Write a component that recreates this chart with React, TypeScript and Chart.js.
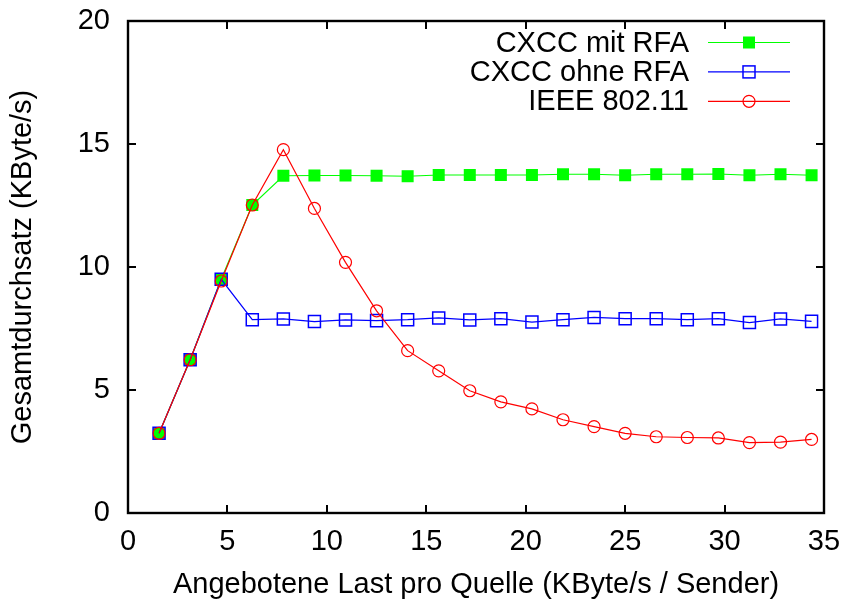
import React, { useEffect, useRef } from 'react';
import { Chart, registerables } from 'chart.js';

Chart.register(...registerables);

const xValues = [1.5625, 3.125, 4.6875, 6.25, 7.8125, 9.375, 10.9375, 12.5, 14.0625, 15.625, 17.1875, 18.75, 20.3125, 21.875, 23.4375, 25, 26.5625, 28.125, 29.6875, 31.25, 32.8125, 34.375];
const seriesLabels = ['CXCC mit RFA', 'CXCC ohne RFA', 'IEEE 802.11'];
const mitRFA = [3.24, 6.23, 9.5, 12.52, 13.71, 13.72, 13.72, 13.71, 13.69, 13.74, 13.74, 13.74, 13.74, 13.77, 13.77, 13.73, 13.77, 13.77, 13.78, 13.73, 13.77, 13.73];
const ohneRFA = [3.24, 6.23, 9.5, 7.86, 7.89, 7.78, 7.85, 7.82, 7.86, 7.93, 7.85, 7.9, 7.76, 7.86, 7.95, 7.9, 7.9, 7.86, 7.9, 7.74, 7.89, 7.79];
const ieee = [3.24, 6.23, 9.43, 12.52, 14.77, 12.38, 10.19, 8.22, 6.6, 5.78, 4.97, 4.52, 4.23, 3.79, 3.51, 3.24, 3.1, 3.07, 3.05, 2.86, 2.88, 2.99];
const xTicks = [0, 5, 10, 15, 20, 25, 30, 35];
const yTicks = [0, 5, 10, 15, 20];
const xTitle = 'Angebotene Last pro Quelle (KByte/s / Sender)';
const yTitle = 'Gesamtdurchsatz (KByte/s)';

const colors = ['#00ff00', '#0000ff', '#ff0000'];
const FONT = "'Liberation Sans', Arial, Helvetica, sans-serif";
const FS = 29;

function drawMarker(ctx: CanvasRenderingContext2D, i: number, x: number, y: number) {
  ctx.save();
  if (i === 0) {
    ctx.fillStyle = colors[0];
    ctx.fillRect(x - 6, y - 6, 12, 12);
  } else if (i === 1) {
    ctx.strokeStyle = colors[1];
    ctx.lineWidth = 1.5;
    ctx.strokeRect(x - 6, y - 6, 12, 12);
  } else {
    ctx.strokeStyle = colors[2];
    ctx.lineWidth = 1.2;
    ctx.beginPath();
    ctx.arc(x, y, 6, 0, Math.PI * 2);
    ctx.stroke();
  }
  ctx.restore();
}

const framePlugin = {
  id: 'gnuFrame',
  afterDatasetsDraw(chart: any) {
    const { ctx, chartArea, scales } = chart;
    const { left, right, top, bottom } = chartArea;
    const x = scales.x;
    const y = scales.y;
    ctx.save();
    ctx.strokeStyle = '#000';
    ctx.lineWidth = 2;
    ctx.beginPath();
    for (const v of xTicks) {
      const px = Math.round(x.getPixelForValue(v));
      ctx.moveTo(px, bottom);
      ctx.lineTo(px, bottom - 8);
      ctx.moveTo(px, top);
      ctx.lineTo(px, top + 8);
    }
    for (const v of yTicks) {
      const py = Math.round(y.getPixelForValue(v));
      ctx.moveTo(left, py);
      ctx.lineTo(left + 8, py);
      ctx.moveTo(right, py);
      ctx.lineTo(right - 8, py);
    }
    ctx.stroke();
    ctx.lineWidth = 2.4;
    ctx.strokeRect(left, top, right - left, bottom - top);

    // legend
    ctx.font = `${FS}px ${FONT}`;
    ctx.textAlign = 'right';
    ctx.textBaseline = 'middle';
    for (let i = 0; i < seriesLabels.length; i++) {
      const rowY = top + 21.5 + i * 29.4;
      ctx.fillStyle = '#000';
      ctx.fillText(seriesLabels[i], right - 135, rowY + 1);
      ctx.strokeStyle = colors[i];
      ctx.lineWidth = 1.2;
      ctx.beginPath();
      ctx.moveTo(right - 116, rowY);
      ctx.lineTo(right - 34, rowY);
      ctx.stroke();
      drawMarker(ctx, i, right - 75, rowY);
    }
    ctx.restore();
  },
};

export default function App() {
  const ref = useRef<HTMLCanvasElement>(null);
  useEffect(() => {
    if (!ref.current) return;
    Chart.defaults.font.family = FONT;
    Chart.defaults.color = '#000';
    const mk = (vals: number[]) => xValues.map((xv, i) => ({ x: xv, y: vals[i] }));
    const chart = new Chart(ref.current, {
      type: 'line',
      data: {
        datasets: [
          {
            label: seriesLabels[0],
            data: mk(mitRFA),
            borderColor: colors[0],
            backgroundColor: colors[0],
            borderWidth: 1.2,
            pointStyle: 'rect',
            pointRadius: 8.5,
            pointBorderWidth: 0,
            pointBackgroundColor: colors[0],
            order: 3,
          },
          {
            label: seriesLabels[1],
            data: mk(ohneRFA),
            borderColor: colors[1],
            backgroundColor: 'rgba(0,0,0,0)',
            borderWidth: 1.2,
            pointStyle: 'rect',
            pointRadius: 8.5,
            pointBorderWidth: 1.5,
            pointBackgroundColor: 'rgba(0,0,0,0)',
            order: 2,
          },
          {
            label: seriesLabels[2],
            data: mk(ieee),
            borderColor: colors[2],
            backgroundColor: 'rgba(0,0,0,0)',
            borderWidth: 1.2,
            pointStyle: 'circle',
            pointRadius: 6,
            pointBorderWidth: 1.2,
            pointBackgroundColor: 'rgba(0,0,0,0)',
            order: 1,
          },
        ],
      },
      options: {
        animation: false,
        responsive: false,
        maintainAspectRatio: false,
        layout: { padding: { left: 0, right: 24, top: 21, bottom: 0 } },
        plugins: { legend: { display: false }, tooltip: { enabled: false } },
        elements: { line: { tension: 0 } },
        scales: {
          x: {
            type: 'linear',
            min: 0,
            max: 35,
            afterFit: (s: any) => { s.height = 93; s.paddingLeft = 0; s.paddingRight = 0; },
            afterBuildTicks: (s: any) => { s.ticks = xTicks.map((v) => ({ value: v })); },
            grid: { display: false, drawTicks: false },
            border: { display: false },
            ticks: { padding: 12, font: { size: FS, family: FONT }, color: '#000', maxRotation: 0 },
            title: { display: true, text: xTitle, font: { size: FS, family: FONT }, color: '#000', padding: { top: 0, bottom: 4 } },
          },
          y: {
            type: 'linear',
            min: 0,
            max: 20,
            afterFit: (s: any) => { s.width = 128; s.paddingTop = 0; s.paddingBottom = 0; },
            afterBuildTicks: (s: any) => { s.ticks = yTicks.map((v) => ({ value: v })); },
            grid: { display: false, drawTicks: false },
            border: { display: false },
            ticks: { padding: 18, font: { size: FS, family: FONT }, color: '#000' },
            title: { display: true, text: yTitle, font: { size: FS, family: FONT }, color: '#000', padding: { top: 6, bottom: 0 } },
          },
        },
      },
      plugins: [framePlugin],
    });
    return () => chart.destroy();
  }, []);
  return (
    <div style={{ position: 'absolute', left: 0, top: 0, width: 848, height: 606, background: '#fff' }}>
      <canvas ref={ref} width={848} height={606} style={{ display: 'block' }} />
    </div>
  );
}
